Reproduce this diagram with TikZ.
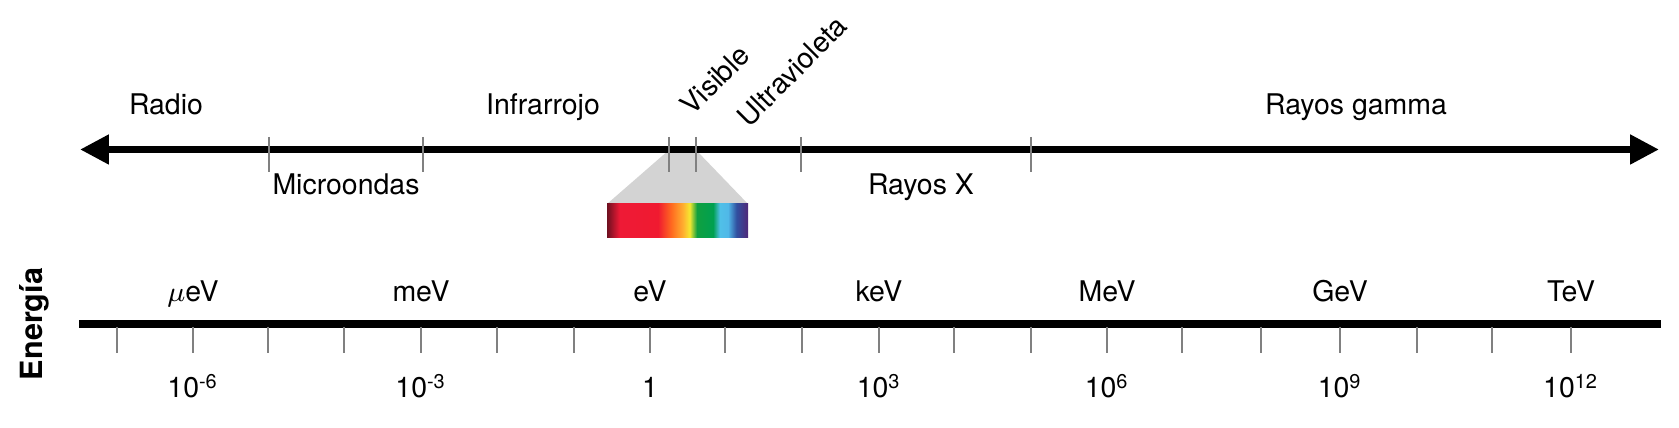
\documentclass[tikz,border=0pt]{standalone}
\usepackage{fontspec}
\setmainfont{TeX Gyre Heros}
\usetikzlibrary{arrows.meta}

\definecolor{tickgray}{RGB}{128,128,128}
\definecolor{fangray}{RGB}{211,211,211}
\definecolor{sp1}{RGB}{110,16,32}
\definecolor{sp2}{RGB}{238,26,54}
\definecolor{sp3}{RGB}{240,26,48}
\definecolor{sp4}{RGB}{255,106,32}
\definecolor{sp5}{RGB}{255,176,48}
\definecolor{sp6}{RGB}{245,232,48}
\definecolor{sp7}{RGB}{16,160,64}
\definecolor{sp8}{RGB}{0,160,80}
\definecolor{sp9}{RGB}{80,192,232}
\definecolor{sp10}{RGB}{80,184,232}
\definecolor{sp11}{RGB}{48,80,160}
\definecolor{sp12}{RGB}{80,40,120}

\pgfdeclarehorizontalshading{spectrum}{100bp}{%
  color(0bp)=(sp1); color(25bp)=(sp1); color(29.5bp)=(sp2);
  color(43.1bp)=(sp3); color(47.8bp)=(sp4); color(52bp)=(sp5);
  color(54.3bp)=(sp6); color(56.9bp)=(sp7); color(62.6bp)=(sp8);
  color(65bp)=(sp9); color(67.9bp)=(sp10); color(70.9bp)=(sp11);
  color(75bp)=(sp12); color(100bp)=(sp12)}

\newcommand\lblfont{\fontsize{8.1}{9.5}\selectfont}

\tikzset{
  axisline/.style={line width=2pt},
  tickmark/.style={draw=tickgray, line width=0.55pt},
  lbl/.style={font=\lblfont, anchor=base, inner sep=0pt},
  slanted/.style={font=\lblfont, rotate=45, inner sep=0pt},
}

\begin{document}
\begin{tikzpicture}[x=0.1mm,y=-0.1mm]%
        \useasboundingbox (0,0) rectangle (1679,428);
        % visible band
        \coordinate (visL) at (669,150);
        \coordinate (visR) at (696,150);
        \coordinate (barW) at (607,204);
        \coordinate (barE) at (748,204);
        \fill[fangray] (visL) -- (visR) -- (barE) -- (barW) -- cycle;
        \shade[shading=spectrum] (barW) rectangle (748,238);
        % spectrum axis
        \coordinate (topL) at (80,149.5);
        \coordinate (topR) at (1659,149.5);
        \draw[axisline,{Triangle[length=8.2pt,width=8pt]}-{Triangle[length=8.2pt,width=8pt]}] (topL) -- (topR);
        \draw[tickmark] (269,137) -- (269,172);
        \draw[tickmark] (423,137) -- (423,172);
        \draw[tickmark] (visL) ++(0,-13) -- ++(0,35);
        \draw[tickmark] (visR) ++(0,-13) -- ++(0,35);
        \draw[tickmark] (801,137) -- (801,172);
        \draw[tickmark] (1031,137) -- (1031,172);
        \node[lbl] (radio) at (166,115) {Radio};
        \node[lbl] (micro) at (346,195) {Microondas};
        \node[lbl] (infra) at (543,115) {Infrarrojo};
        \node[slanted] (visible) at (715,80) {Visible};
        \node[slanted] (uv) at (792,71) {Ultravioleta};
        \node[lbl] (rayosx) at (921,195) {Rayos X};
        \node[lbl] (gamma) at (1356,115) {Rayos gamma};
        % energy axis
        \coordinate (botL) at (79,324);
        \coordinate (botR) at (1661,324);
        \draw[axisline] (botL) -- (botR);
        \draw[tickmark] (117,327) -- (117,353);
        \draw[tickmark] (193,327) -- (193,353);
        \draw[tickmark] (268,327) -- (268,353);
        \draw[tickmark] (344,327) -- (344,353);
        \draw[tickmark] (421,327) -- (421,353);
        \draw[tickmark] (497,327) -- (497,353);
        \draw[tickmark] (574,327) -- (574,353);
        \draw[tickmark] (650,327) -- (650,353);
        \draw[tickmark] (725,327) -- (725,353);
        \draw[tickmark] (802,327) -- (802,353);
        \draw[tickmark] (879,327) -- (879,353);
        \draw[tickmark] (954,327) -- (954,353);
        \draw[tickmark] (1031,327) -- (1031,353);
        \draw[tickmark] (1107,327) -- (1107,353);
        \draw[tickmark] (1182,327) -- (1182,353);
        \draw[tickmark] (1261,327) -- (1261,353);
        \draw[tickmark] (1340,327) -- (1340,353);
        \draw[tickmark] (1417,327) -- (1417,353);
        \draw[tickmark] (1492,327) -- (1492,353);
        \draw[tickmark] (1571,327) -- (1571,353);
        \node[lbl] (ueV) at (193,302) {$\mu$eV};
        \node[lbl] (meV) at (421,302) {meV};
        \node[lbl] (eV) at (650,302) {eV};
        \node[lbl] (keV) at (879,302) {keV};
        \node[lbl] (MeV) at (1107,302) {MeV};
        \node[lbl] (GeV) at (1340,302) {GeV};
        \node[lbl] (TeV) at (1571,302) {TeV};
        \node[lbl] (pm6) at (193,398) {10\textsuperscript{-6}};
        \node[lbl] (pm3) at (421,398) {10\textsuperscript{-3}};
        \node[lbl] (p0) at (650,398) {1};
        \node[lbl] (p3) at (879,398) {10\textsuperscript{3}};
        \node[lbl] (p6) at (1107,398) {10\textsuperscript{6}};
        \node[lbl] (p9) at (1340,398) {10\textsuperscript{9}};
        \node[lbl] (p12) at (1571,398) {10\textsuperscript{12}};
        \node[font=\fontsize{8.7}{10}\selectfont\bfseries, rotate=90, inner sep=0pt] (energia) at (34,324) {Energía};
    \end{tikzpicture}
\end{document}
